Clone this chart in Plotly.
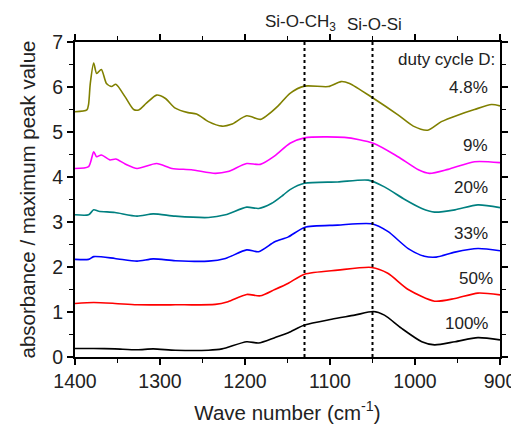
import plotly.graph_objects as go

# ---- data ----
olive_x = [1400, 1386, 1384, 1382, 1378, 1374.5, 1369, 1363, 1357, 1352, 1341, 1331, 1325, 1316, 1304, 1294,
           1282, 1267, 1257, 1243, 1227, 1216, 1198, 1182, 1174, 1161, 1147, 1130, 1102, 1087, 1077, 1049,
           1020, 1002, 985, 969, 949, 930, 910, 900]
olive_y = [5.45, 5.49, 5.62, 6.08, 6.53, 6.30, 6.39, 6.08, 6.01, 6.06, 5.78, 5.50, 5.49, 5.64, 5.82, 5.75,
           5.53, 5.43, 5.40, 5.23, 5.13, 5.17, 5.36, 5.28, 5.37, 5.58, 5.86, 6.02, 6.01, 6.12, 6.08, 5.75,
           5.38, 5.13, 5.04, 5.23, 5.38, 5.50, 5.61, 5.58]

mag_x = [1400, 1384, 1378, 1374.5, 1369, 1359, 1352, 1341, 1327, 1304, 1286, 1263, 1235, 1220, 1198, 1182,
         1165, 1147, 1130, 1083, 1049, 1020, 996, 983, 961, 930, 900]
mag_y = [4.19, 4.23, 4.56, 4.45, 4.49, 4.38, 4.40, 4.29, 4.19, 4.30, 4.19, 4.16, 4.08, 4.12, 4.30, 4.28,
         4.47, 4.75, 4.87, 4.88, 4.75, 4.45, 4.16, 4.08, 4.17, 4.34, 4.32]

teal_x = [1400, 1384, 1378, 1372, 1353, 1327, 1308, 1282, 1243, 1223, 1198, 1184, 1169, 1155, 1147, 1130,
          1091, 1055, 1036, 1012, 992, 977, 953, 926, 900]
teal_y = [3.16, 3.16, 3.27, 3.24, 3.21, 3.13, 3.18, 3.13, 3.10, 3.16, 3.33, 3.30, 3.41, 3.60, 3.72, 3.86,
          3.89, 3.93, 3.78, 3.50, 3.30, 3.22, 3.27, 3.38, 3.32]

blue_x = [1400, 1384, 1378, 1353, 1327, 1308, 1282, 1243, 1223, 1198, 1184, 1165, 1149, 1130, 1091, 1051,
          1032, 1008, 989, 975, 953, 926, 900]
blue_y = [2.17, 2.17, 2.23, 2.19, 2.13, 2.18, 2.14, 2.13, 2.19, 2.38, 2.34, 2.56, 2.67, 2.88, 2.93, 2.96,
          2.79, 2.41, 2.24, 2.22, 2.33, 2.41, 2.36]

red_x = [1400, 1378, 1353, 1327, 1282, 1235, 1220, 1198, 1182, 1165, 1149, 1130, 1091, 1051, 1032, 1008,
         977, 953, 926, 900]
red_y = [1.19, 1.21, 1.19, 1.16, 1.16, 1.17, 1.23, 1.39, 1.36, 1.50, 1.64, 1.84, 1.93, 1.99, 1.86, 1.50,
         1.24, 1.30, 1.42, 1.38]

blk_x = [1400, 1378, 1353, 1327, 1308, 1282, 1243, 1227, 1198, 1184, 1165, 1149, 1130, 1098, 1071, 1049,
         1036, 1016, 992, 977, 953, 926, 900]
blk_y = [0.19, 0.19, 0.18, 0.16, 0.18, 0.15, 0.15, 0.18, 0.34, 0.31, 0.43, 0.54, 0.71, 0.84, 0.93, 1.01,
         0.93, 0.64, 0.34, 0.27, 0.34, 0.43, 0.38]

series = [
    ("4.8%", olive_x, olive_y, "#808000", 6.0, 912),
    ("9%", mag_x, mag_y, "#ff00ff", 4.71, 912),
    ("20%", teal_x, teal_y, "#008080", 3.76, 912),
    ("33%", blue_x, blue_y, "#0000ff", 2.74, 912),
    ("50%", red_x, red_y, "#ff0000", 1.74, 906),
    ("100%", blk_x, blk_y, "#000000", 0.74, 912),
]

peak_pos = [1130, 1050]
peak_labels = ["Si-O-CH<sub>3</sub>", "Si-O-Si"]
peak_label_x = [1135, 1047.5]

FONT = "Liberation Sans, Arial, sans-serif"

fig = go.Figure()
for name, xs, ys, col, ly, lx in series:
    fig.add_trace(go.Scatter(x=xs, y=ys, mode="lines", name=name,
                             line=dict(color=col, width=1.6, shape="spline", smoothing=0.7),
                             showlegend=False))
    fig.add_annotation(x=lx, y=ly, text=name, showarrow=False, xanchor="right", yanchor="middle",
                       font=dict(family=FONT, size=17, color="#222"))

fig.add_annotation(x=903.5, y=6.62, text="duty cycle D:", showarrow=False, xanchor="right",
                   yanchor="middle", font=dict(family=FONT, size=17, color="#222"))

for p, lab, lx in zip(peak_pos, peak_labels, peak_label_x):
    fig.add_shape(type="line", x0=p, x1=p, y0=0, y1=7, xref="x", yref="y",
                  line=dict(color="black", width=2, dash="dot"))
    fig.add_annotation(x=lx, y=1.0, xref="x", yref="paper", yshift=6, text=lab, showarrow=False,
                       xanchor="center", yanchor="bottom",
                       font=dict(family=FONT, size=17, color="#222"))

axis_common = dict(showline=True, linecolor="black", linewidth=1.8, mirror="ticks",
                   ticks="outside", ticklen=6, tickwidth=1.5, tickcolor="black",
                   showgrid=False, zeroline=False, automargin=False,
                   tickfont=dict(family=FONT, size=19.5, color="#222"))

fig.update_xaxes(range=[1400, 900], dtick=100, tick0=900,
                 minor=dict(dtick=50, ticklen=4, tickwidth=1.2, tickcolor="black", ticks="outside", showgrid=False),
                 title=dict(text="Wave number (cm<sup>-1</sup>)", font=dict(family=FONT, size=20.5, color="#222"),
                            standoff=20),
                 **axis_common)
fig.update_yaxes(range=[0, 7], dtick=1, tick0=0,
                 minor=dict(dtick=0.5, ticklen=4, tickwidth=1.2, tickcolor="black", ticks="outside", showgrid=False),
                 title=dict(text="absorbance / maximum peak value", font=dict(family=FONT, size=20.5, color="#222"),
                            standoff=11),
                 **axis_common)

# The page body adds an 8px offset, so the figure is drawn 8px smaller and shifted.
fig.update_layout(width=511, height=416, margin=dict(l=67, r=19, t=34, b=67),
                  paper_bgcolor="white", plot_bgcolor="white")

fig.write_html("out.html")
